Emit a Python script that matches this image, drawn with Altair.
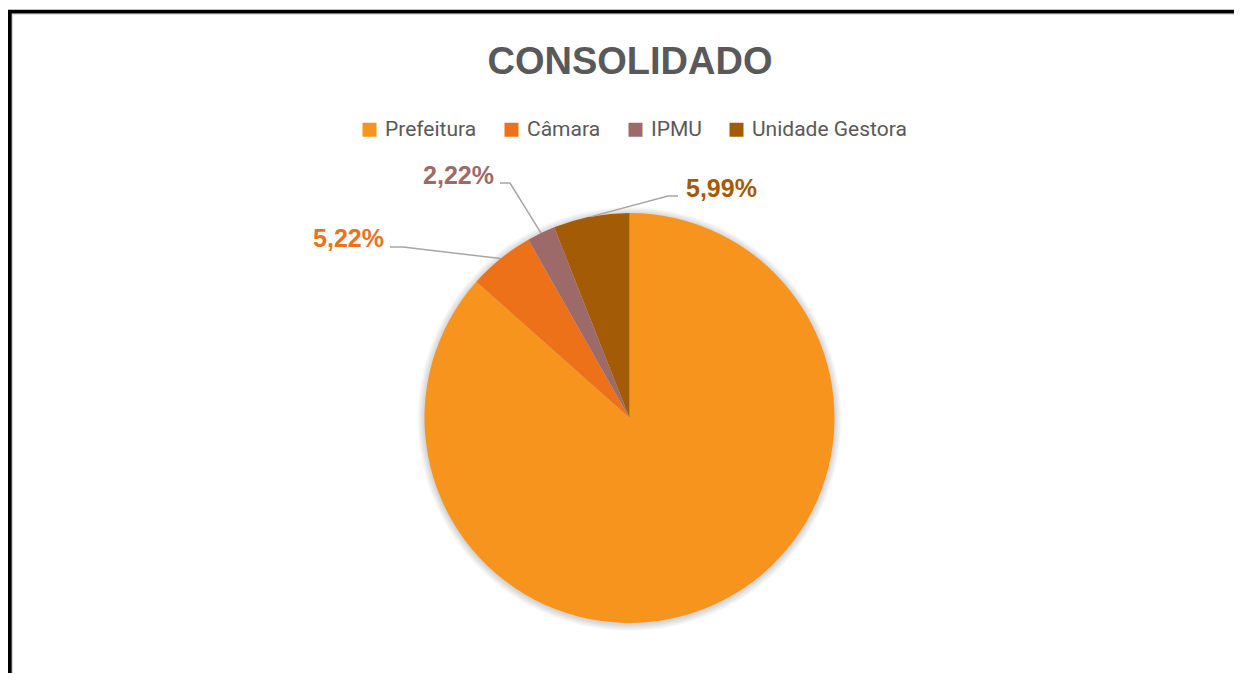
import math
import altair as alt
import pandas as pd

# ---- data ----
categories = ["Prefeitura", "Câmara", "IPMU", "Unidade Gestora"]
shares = [86.57, 5.22, 2.22, 5.99]
label_texts = ["86,57%", "5,22%", "2,22%", "5,99%"]
shown_labels = ["Câmara", "IPMU", "Unidade Gestora"]
title_text = "CONSOLIDADO"

# ---- style ----
colors = ["#F7941E", "#EC7118", "#9D6A6A", "#A35B05"]
W, H = 1226, 665
CX, CY, R = 621.5, 410, 205
# label layout (pixel positions of label anchor, leader elbow and leader end)
LABEL_LAYOUT = {
    "Câmara": {"tx": 376, "ty": 239, "align": "right", "elbow": (395, 239), "end": (382, 239)},
    "IPMU": {"tx": 486, "ty": 176, "align": "right", "elbow": (502, 175), "end": (492, 175)},
    "Unidade Gestora": {"tx": 678, "ty": 189, "align": "left", "elbow": (660, 188), "end": (670, 188)},
}

df = pd.DataFrame({"cat": categories, "share": shares, "idx": list(range(len(categories)))})
color_scale = alt.Scale(domain=categories, range=colors)

base = alt.Chart(df)
theta_enc = alt.Theta("share:Q", stack=True)
order_enc = alt.Order("idx:Q")

# soft shadow around the pie
shadow_layers = [
    base.mark_arc(outerRadius=R + k, color="#000000", opacity=0.022).encode(
        theta=theta_enc, order=order_enc, x=alt.value(CX), y=alt.value(CY + 1)
    )
    for k in range(1, 8)
]

pie = base.mark_arc(outerRadius=R).encode(
    theta=theta_enc,
    order=order_enc,
    color=alt.Color(
        "cat:N",
        scale=color_scale,
        sort=categories,
        legend=alt.Legend(
            title=None,
            orient="none",
            direction="horizontal",
            legendX=351,
            legendY=111,
            symbolType="square",
            symbolSize=196,
            symbolStrokeWidth=0,
            labelFont="Roboto",
            labelFontSize=21,
            labelColor="#595959",
            labelOffset=5,
            columnPadding=24,
            padding=0,
        ),
    ),
    x=alt.value(CX),
    y=alt.value(CY),
)

# leader lines: start on the pie edge at each slice's mid-angle
rows = []
cum = 0.0
total = sum(shares)
for cat, v in zip(categories, shares):
    mid = (cum + v / 2) / total * 2 * math.pi
    cum += v
    if cat in LABEL_LAYOUT:
        lay = LABEL_LAYOUT[cat]
        pts = [(CX + R * math.sin(mid), CY - R * math.cos(mid)), lay["elbow"], lay["end"]]
        for s, (px, py) in enumerate(pts):
            rows.append({"cat": cat, "seq": s, "px": px, "py": py})
leader_df = pd.DataFrame(rows)

leaders = alt.Chart(leader_df).mark_line(color="#A6A6A6", strokeWidth=1.5).encode(
    x=alt.X("px:Q", scale=None, axis=None),
    y=alt.Y("py:Q", scale=None, axis=None),
    detail="cat:N",
    order="seq:Q",
)

lab_rows = []
for cat, txt in zip(categories, label_texts):
    if cat in shown_labels:
        lay = LABEL_LAYOUT[cat]
        lab_rows.append({"cat": cat, "txt": txt, "px": lay["tx"], "py": lay["ty"], "align": lay["align"]})
lab_df = pd.DataFrame(lab_rows)


def label_layer(align):
    return alt.Chart(lab_df).transform_filter(alt.datum.align == align).mark_text(
        font="Liberation Sans", fontWeight="bold", fontSize=25, align=align, baseline="alphabetic"
    ).encode(
        x=alt.X("px:Q", scale=None, axis=None),
        y=alt.Y("py:Q", scale=None, axis=None),
        text="txt:N",
        color=alt.Color("cat:N", scale=color_scale, legend=None),
    )


title = alt.Chart(pd.DataFrame({"t": [title_text]})).mark_text(
    font="Liberation Sans", fontWeight="bold", fontSize=38, color="#595959",
    align="center", baseline="alphabetic",
).encode(text="t:N", x=alt.value(622), y=alt.value(66))

one = pd.DataFrame({"a": [0]})
frame_black = alt.Chart(one).mark_rect(filled=False, stroke="#000000", strokeWidth=3.7).encode(
    x=alt.value(1.85), y=alt.value(3.65), x2=alt.value(W + 40), y2=alt.value(H + 40)
)
frame_gray = alt.Chart(one).mark_rect(filled=False, stroke="#D9D9D9", strokeWidth=1.3).encode(
    x=alt.value(4.4), y=alt.value(6.1), x2=alt.value(W + 40), y2=alt.value(H + 40)
)

chart = alt.layer(
    frame_gray, frame_black, *shadow_layers, pie, leaders,
    label_layer("right"), label_layer("left"), title,
).properties(
    width=W, height=H, padding=0, autosize=alt.AutoSizeParams(type="none"), background="white"
).configure_view(stroke=None)

chart.save("out.html", embed_options={"renderer": "svg", "actions": False})
